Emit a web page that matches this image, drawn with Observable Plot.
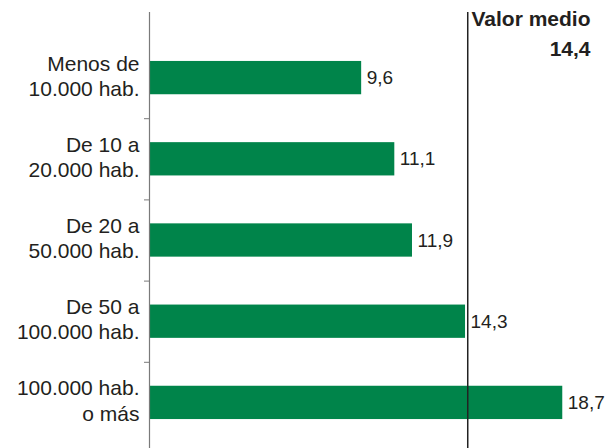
<!DOCTYPE html>
<html>
<head>
<meta charset="utf-8">
<script src="https://cdn.jsdelivr.net/npm/d3@7"></script>
<script src="https://cdn.jsdelivr.net/npm/@observablehq/plot@0.6"></script>
<style>
  html, body { margin: 0; padding: 0; background: #fff; }
  #chart svg { display: block; }
</style>
</head>
<body>
<div id="chart"></div>
<script>
const categories = [
  "Menos de\n10.000 hab.",
  "De 10 a\n20.000 hab.",
  "De 20 a\n50.000 hab.",
  "De 50 a\n100.000 hab.",
  "100.000 hab.\no más"
];
const values = [9.6, 11.1, 11.9, 14.3, 18.7];
const meanValue = 14.4;
const meanLabel = "Valor medio";

const data = categories.map((c, i) => ({cat: c, idx: i, value: values[i]}));
const fmt = v => v.toFixed(1).replace(".", ",");
const half = 0.205;
const green = "#00844a";
const ink = "#231f20";
const font = "Arial, 'Liberation Sans', Helvetica, sans-serif";

const chart = Plot.plot({
  width: 606,
  height: 448,
  marginTop: 12,
  marginBottom: 0,
  marginLeft: 149,
  marginRight: 16,
  style: {fontFamily: font, color: ink, background: "#fff"},
  x: {domain: [0, 20], range: [149, 591], axis: null},
  y: {domain: [-0.5, 4.5], range: [37, 443], axis: null},
  marks: [
    Plot.rectX(data, {x1: 0, x2: "value", y1: d => d.idx - half, y2: d => d.idx + half, fill: green}),
    Plot.ruleX([meanValue], {stroke: "#222", strokeWidth: 1.5}),
    Plot.ruleX([0], {stroke: "#7a7a7a", strokeWidth: 1.2}),
    Plot.axisY([0.5, 1.5, 2.5, 3.5], {tickSize: 5, tickFormat: () => "", stroke: "#7a7a7a", label: null}),
    Plot.text(data, {x: 0, y: "idx", text: "cat", textAnchor: "end", dx: -10, dy: -3, fontSize: 21, lineHeight: 1.2, fill: ink}),
    Plot.text(data, {x: "value", y: "idx", text: d => fmt(d.value), textAnchor: "start", dx: 5, fontSize: 19, fill: ink}),
    Plot.text([meanLabel + "\n" + fmt(meanValue)], {frameAnchor: "top-right", textAnchor: "end", lineAnchor: "top", dy: -8, fontSize: 21, fontWeight: "bold", lineHeight: 1.43, fill: ink})
  ]
});
document.getElementById("chart").appendChild(chart);
</script>
</body>
</html>
